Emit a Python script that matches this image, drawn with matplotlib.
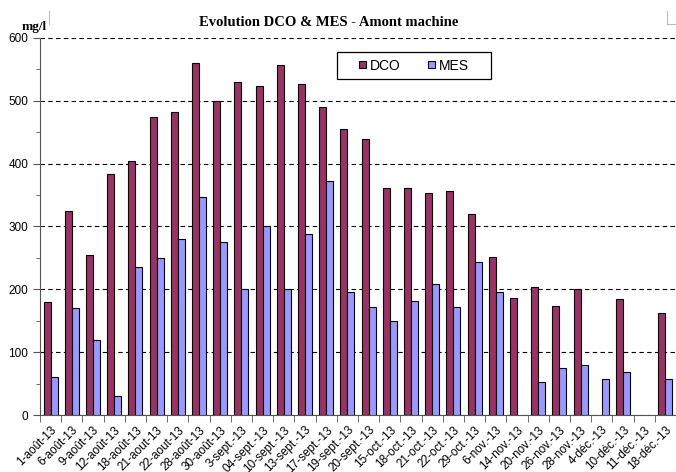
import numpy as np
import matplotlib.pyplot as plt
from matplotlib.ticker import MultipleLocator, FixedLocator
from matplotlib.patches import Rectangle
from matplotlib.lines import Line2D

dates = ['1-août-13', '6-août-13', '9-août-13', '12-août-13', '18-août-13',
         '21-aout-13', '22-aout-13', '28-août-13', '30-août-13', '3-sept.-13',
         '04-sept.-13', '10-sept.-13', '13-sept.-13', '17-sept.-13', '19-sept.-13',
         '20-sept.-13', '15-oct.-13', '18-oct.-13', '21-oct.-13', '22-oct.-13',
         '29-oct.-13', '6-nov.-13', '14-nov.-13', '20-nov.-13', '26-nov.-13',
         '28-nov.-13', '4-déc.-13', '10-déc.-13', '11-déc.-13', '18-déc.-13']
dco = [180, 325, 255, 383, 405, 475, 482, 560, 500, 530,
       524, 557, 527, 490, 455, 440, 362, 362, 353, 356,
       320, 252, 187, 204, 174, 200, np.nan, 185, np.nan, 162]
mes = [60, 170, 120, 30, 235, 250, 280, 347, 275, 200,
       300, 200, 288, 372, 195, 172, 150, 182, 208, 172,
       243, 196, np.nan, 52, 75, 80, 57, 68, np.nan, 57]

W, H = 676, 472
fig = plt.figure(figsize=(W / 100, H / 100), dpi=100)
ax = fig.add_axes([40 / W, 1 - 415 / H, 636 / W, 377 / H])

x = np.arange(len(dates))
w = 0.33
ax.bar(x - w/2, dco, w, color='#993366', edgecolor='black', linewidth=0.8, label='DCO', zorder=3)
ax.bar(x + w/2, mes, w, color='#9999FF', edgecolor='black', linewidth=0.8, label='MES', zorder=3)

ax.set_xlim(-0.5, len(dates) - 0.5)
ax.set_ylim(0, 600)
ax.yaxis.set_major_locator(MultipleLocator(100))
ax.yaxis.set_minor_locator(MultipleLocator(50))
ax.yaxis.grid(True, which='major', linestyle=(0, (4, 3)), color='black', linewidth=0.8, zorder=0)

ax.set_xticks(x)
ax.set_xticklabels(dates, rotation=45, ha='right', rotation_mode='anchor', fontsize=8.5,
                   family='Liberation Sans')
ax.tick_params(axis='x', which='major', length=0, pad=6.5)
ax.xaxis.set_minor_locator(FixedLocator(np.arange(-0.5, len(dates), 1)))
ax.tick_params(axis='x', which='minor', length=5, direction='out', color='#555555')
ax.tick_params(axis='y', which='both', direction='out', color='#555555')
ax.tick_params(axis='y', which='major', length=5, labelsize=8.5)
ax.tick_params(axis='y', which='minor', length=3)
for t in ax.get_yticklabels():
    t.set_family('Liberation Sans')

ax.spines['top'].set_visible(False)
ax.spines['right'].set_visible(False)
ax.spines['left'].set_color('#555555')
ax.spines['bottom'].set_color('#555555')

fig.text(328.5 / W, 1 - 22 / H, 'Evolution DCO & MES - Amont machine', ha='center', va='center',
         family='Liberation Serif', fontweight='bold', fontsize=10.5)
fig.text(34 / W, 1 - 27 / H, 'mg/l', ha='center', va='center',
         family='Liberation Serif', fontweight='bold', fontsize=9.5)

# legend box (drawn inside the axes so the legend can sit on top)
ax.add_patch(Rectangle((337 / W, 1 - 79 / H), 154 / W, 27 / H, transform=fig.transFigure,
                       facecolor='white', edgecolor='black', linewidth=0.9, zorder=4,
                       clip_on=False))
leg = ax.legend(loc='center', bbox_to_anchor=(414 / W, 1 - 65.5 / H),
                bbox_transform=fig.transFigure, ncol=2, frameon=False,
                handlelength=0.45, handleheight=0.45, columnspacing=2.0, handletextpad=0.3,
                borderpad=0, prop={'family': 'Liberation Sans', 'size': 10})
leg.set_zorder(5)
for h in leg.legend_handles:
    h.set_linewidth(0.8)

# faint chart-area corners at the top
for xs, ys in [([49, 49], [11, 24]), ([667, 667], [11, 24]), ([667, 676], [24, 24])]:
    fig.lines.append(Line2D([v / W for v in xs], [1 - v / H for v in ys],
                            transform=fig.transFigure, color='#bbbbbb', linewidth=0.8))

fig.savefig('out.png', dpi=100)
